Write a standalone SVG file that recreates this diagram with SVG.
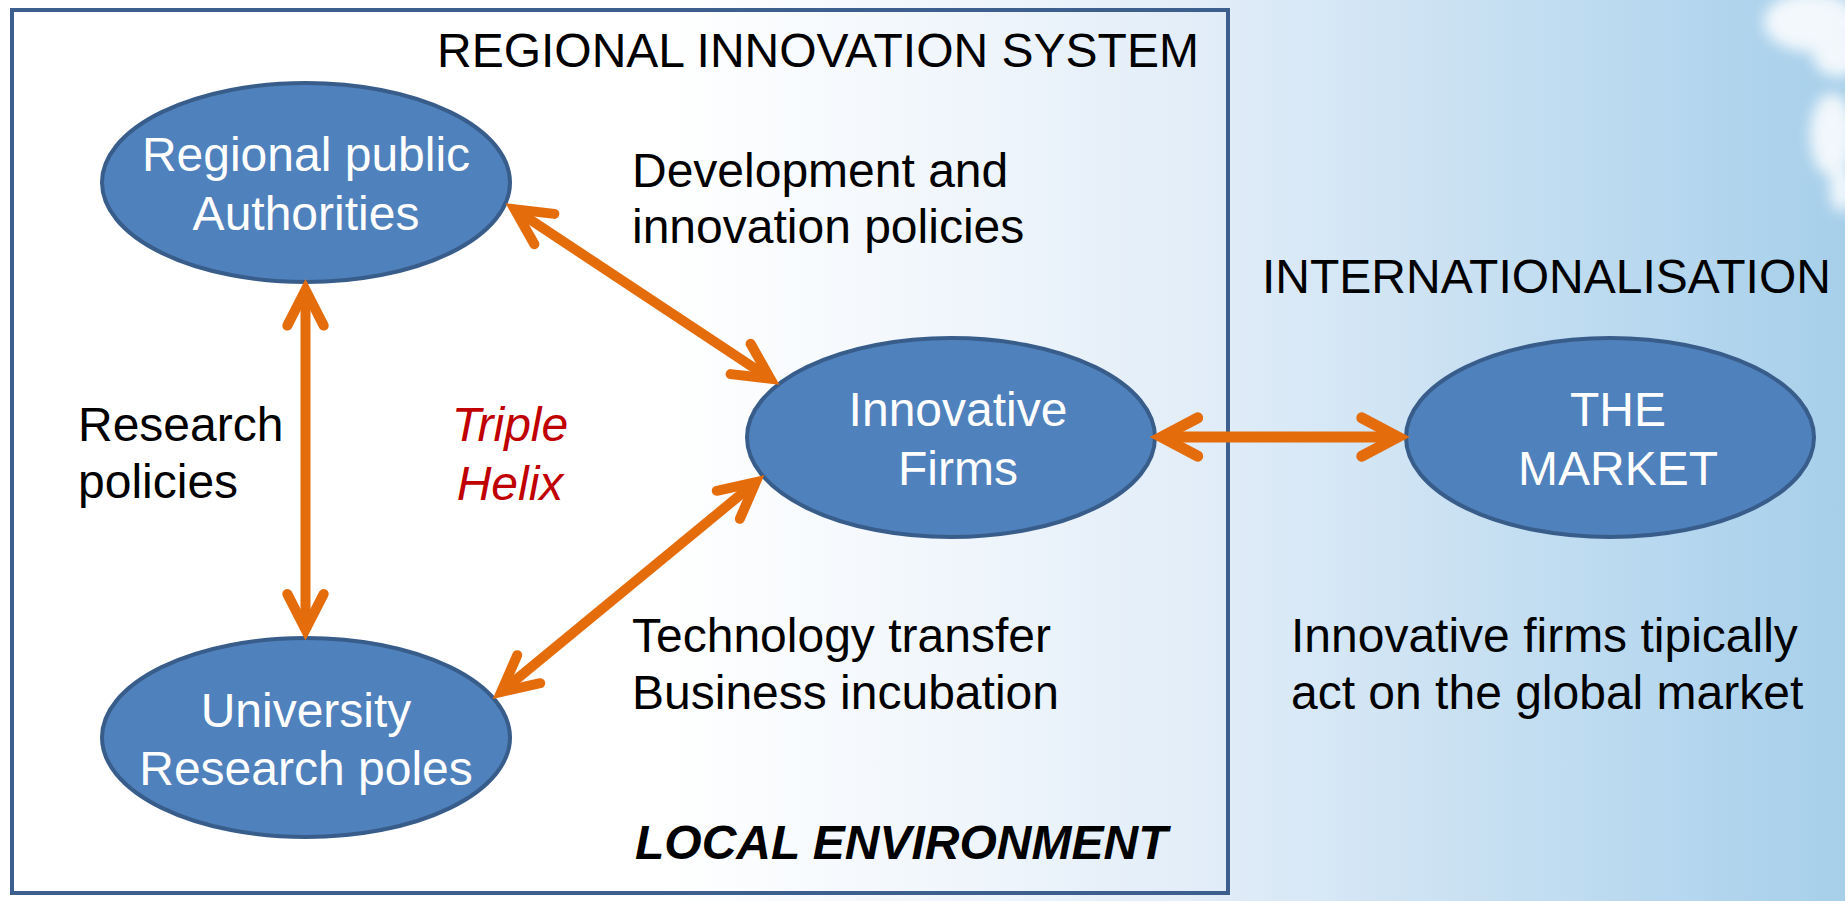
<svg xmlns="http://www.w3.org/2000/svg" width="1845" height="901" viewBox="0 0 1845 901">
  <defs>
    <linearGradient id="bg" gradientUnits="userSpaceOnUse" x1="0" y1="0" x2="1845" y2="0">
      <stop offset="0" stop-color="#ffffff"/>
      <stop offset="0.36" stop-color="#ffffff"/>
      <stop offset="0.5" stop-color="#f2f7fc"/>
      <stop offset="0.665" stop-color="#e0ecf8"/>
      <stop offset="0.8" stop-color="#c8e0f2"/>
      <stop offset="0.9" stop-color="#b7d8ef"/>
      <stop offset="1" stop-color="#a7cfea"/>
    </linearGradient>
    <filter id="blur" x="-50%" y="-50%" width="200%" height="200%">
      <feGaussianBlur stdDeviation="7"/>
    </filter>
    <style>
      .node { fill: #4f81bd; stroke: #385d8a; stroke-width: 4; }
      .ntext { font-family: "Liberation Sans", Arial, sans-serif; font-size: 48px; fill: #ffffff; text-anchor: middle; }
      .label { font-family: "Liberation Sans", Arial, sans-serif; font-size: 48px; fill: #000000; }
      .helix { font-family: "Liberation Sans", Arial, sans-serif; font-size: 48px; fill: #c00000; font-style: italic; text-anchor: middle; }
      .local { font-family: "Liberation Sans", Arial, sans-serif; font-size: 48px; fill: #000000; font-style: italic; font-weight: bold; }
      .conn { fill: none; stroke: #e46c0a; stroke-width: 10; stroke-linecap: round; stroke-linejoin: miter; stroke-miterlimit: 10; }
      .shaft { fill: none; stroke: #e46c0a; stroke-width: 10; stroke-linecap: butt; }
    </style>
  </defs>

  <!-- background -->
  <rect x="0" y="0" width="1845" height="901" fill="url(#bg)"/>
  <g id="clouds" fill="#ffffff" opacity="0.85" filter="url(#blur)">
    <ellipse cx="1812" cy="22" rx="48" ry="30"/>
    <ellipse cx="1838" cy="55" rx="25" ry="22"/>
    <ellipse cx="1832" cy="135" rx="22" ry="42"/>
    <ellipse cx="1842" cy="190" rx="12" ry="22"/>
  </g>

  <!-- regional innovation system frame -->
  <g id="frame">
    <rect x="12" y="10" width="1216" height="883" fill="none" stroke="#3d5f8e" stroke-width="4"/>
    <text class="label" x="437" y="67">REGIONAL INNOVATION SYSTEM</text>
    <text class="local" x="635" y="859">LOCAL ENVIRONMENT</text>
  </g>

  <!-- nodes -->
  <g id="node-authorities">
    <ellipse class="node" cx="306" cy="182.5" rx="204" ry="99.5"/>
    <text class="ntext" x="306" y="171">Regional public</text>
    <text class="ntext" x="306" y="230">Authorities</text>
  </g>
  <g id="node-firms">
    <ellipse class="node" cx="951" cy="437.5" rx="204" ry="99.5"/>
    <text class="ntext" x="958" y="426">Innovative</text>
    <text class="ntext" x="958" y="485">Firms</text>
  </g>
  <g id="node-university">
    <ellipse class="node" cx="306" cy="737.5" rx="204" ry="99.5"/>
    <text class="ntext" x="306" y="727">University</text>
    <text class="ntext" x="306" y="785">Research poles</text>
  </g>
  <g id="node-market">
    <ellipse class="node" cx="1610" cy="437.5" rx="204" ry="99.5"/>
    <text class="ntext" x="1618" y="426">THE</text>
    <text class="ntext" x="1618" y="485">MARKET</text>
  </g>

  <!-- connectors -->
  <g id="connectors">
    <!-- Authorities <-> University -->
    <path class="shaft" d="M305.5 290 L305.5 629.5"/>
    <path class="conn" d="M287.3 325.6 L305.5 290 L323.7 325.6"/>
    <path class="conn" d="M287.3 593.9 L305.5 629.5 L323.7 593.9"/>
    <!-- Authorities <-> Firms -->
    <path class="shaft" d="M514.7 209.4 L770.3 378.6"/>
    <path class="conn" d="M554.4 213.9 L514.7 209.4 L534.4 244.2"/>
    <path class="conn" d="M730.6 374.1 L770.3 378.6 L750.6 343.8"/>
    <!-- University <-> Firms -->
    <path class="shaft" d="M501.2 691.9 L755.8 482.1"/>
    <path class="conn" d="M540.2 683.2 L501.2 691.9 L517.2 655.2"/>
    <path class="conn" d="M739.9 518.8 L755.8 482.1 L716.8 490.8"/>
    <!-- Firms <-> Market -->
    <path class="shaft" d="M1161.5 437 L1398 437" style="stroke-width:11"/>
    <path class="conn" d="M1197.7 417.8 L1161.5 437 L1197.7 456.2" style="stroke-width:11"/>
    <path class="conn" d="M1361.8 417.8 L1398 437 L1361.8 456.2" style="stroke-width:11"/>
  </g>

  <!-- labels -->
  <g id="labels">
    <text class="label" x="632" y="187">Development and</text>
    <text class="label" x="632" y="243">innovation policies</text>
    <text class="label" x="78" y="441">Research</text>
    <text class="label" x="78" y="498">policies</text>
    <text class="helix" x="510" y="441">Triple</text>
    <text class="helix" x="510" y="500">Helix</text>
    <text class="label" x="632" y="652">Technology transfer</text>
    <text class="label" x="632" y="709">Business incubation</text>
    <text class="label" x="1262" y="293">INTERNATIONALISATION</text>
    <text class="label" x="1291" y="652">Innovative firms tipically</text>
    <text class="label" x="1291" y="709">act on the global market</text>
  </g>
</svg>
